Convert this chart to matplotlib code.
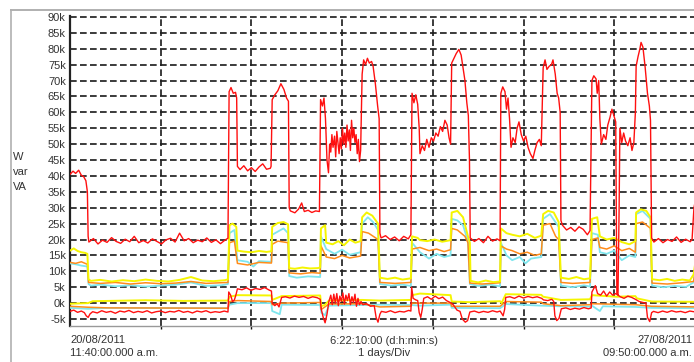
import numpy as np
import matplotlib
matplotlib.use('Agg')
import matplotlib.pyplot as plt
from matplotlib.lines import Line2D

plt.rcParams['font.family'] = ['Liberation Sans', 'DejaVu Sans']

# time in hours from 20/08/2011 11:40, values in kW / kvar / kVA
span_h = 166.17

red_hi_t = [0, 0.8, 1.5, 2.3, 3.0, 3.6, 4.2, 4.6, 4.8,
            5.0, 6.2, 7.4, 8.6, 9.8, 11.0, 12.2, 13.4, 14.6, 15.8, 17.0, 18.2, 19.4, 20.6, 21.8,
            23.0, 24.2, 25.4, 26.6, 27.8, 29.0, 30.2, 31.4, 32.6, 33.8, 35.0, 36.2, 37.4, 38.6,
            39.8, 41.0, 41.8,
            42.1, 42.6, 43.2, 43.8, 44.1, 44.3, 45.0, 46.0, 47.0, 48.0, 49.0, 50.0, 51.0, 52.0,
            53.0, 53.2, 53.5, 54.2, 55.0, 55.8, 56.6, 57.3, 57.8, 58.0, 58.3, 59.5, 60.5, 61.3,
            62.0, 63.0, 64.0, 65.0, 66.0,
            66.3, 66.8, 67.2, 67.6, 68.0, 68.4, 68.7, 69.0, 69.3, 69.6, 70.0, 70.3, 70.6, 70.9,
            71.2, 71.5, 71.8, 72.1, 72.4, 72.7, 73.0, 73.3, 73.6, 73.9, 74.2, 74.5, 74.8, 75.1,
            75.4, 75.7, 76.0, 76.3, 76.6, 76.9,
            77.3, 77.7, 78.2, 78.7, 79.2, 79.8, 80.2, 80.8, 81.4, 81.8, 82.0, 82.3, 83.5, 84.7,
            85.9, 87.1, 88.3, 89.5, 90.2,
            90.5, 91.0, 91.5, 92.0, 92.4, 92.6, 93.2, 93.8, 94.4, 95.0, 95.6, 96.2, 96.8, 97.4,
            98.0, 98.6, 99.2, 99.8, 100.3, 100.7,
            101.0, 101.6, 102.2, 102.9, 103.5, 104.0, 104.5, 105.0, 105.4, 105.7, 105.9, 107.0,
            108.2, 109.4, 110.6, 111.8, 113.0, 113.8,
            114.0, 114.5, 115.1, 115.5, 115.9, 116.3, 116.7, 117.2, 117.8, 118.3, 118.8, 119.4,
            120.0, 120.6, 121.2, 121.8, 122.5, 123.0, 123.6, 124.2, 124.7,
            125.2, 125.7, 126.2, 126.8, 127.4, 127.8, 128.4, 128.9, 129.3, 129.7, 129.9, 130.3,
            131.4, 132.5, 133.6, 134.7, 135.8, 136.9, 137.6,
            138.1, 138.6, 139.2, 139.5, 139.9, 140.2, 140.6, 141.2, 141.8, 142.3, 142.9, 143.4,
            143.9, 144.4, 144.7, 145.0, 145.3, 145.5, 146.0, 146.5, 147.0, 147.6, 148.2, 148.7,
            149.2, 149.6,
            149.8, 150.3, 150.8, 151.1, 151.6, 152.2, 152.8, 153.3, 153.6, 153.9, 154.5, 155.7,
            156.9, 158.1, 159.3, 160.5, 161.7, 162.9, 164.1, 164.6, 165.1, 165.6, 166.2]
red_hi_v = [40.5, 41.5, 40.8, 41.8, 40.2, 39.8, 38.5, 35.0, 21.0,
            19.2, 20.3, 18.6, 19.8, 19.1, 20.6, 19.4, 18.8, 20.1, 19.3, 21.0, 19.0, 19.7, 18.9, 20.2,
            19.4, 18.6, 19.9, 20.4, 19.2, 22.0, 19.6, 20.3, 19.0, 19.8, 19.3, 20.5, 19.1, 19.9,
            18.7, 19.8, 20.4,
            66.5, 67.8, 66.0, 66.3, 64.5, 43.0, 42.0, 43.2, 41.6, 42.6, 41.4, 42.8, 43.8, 42.1,
            42.4, 43.0, 64.0, 65.5, 66.8, 69.0, 67.2, 64.5, 63.5, 30.0, 29.0, 28.4, 29.6, 31.5,
            28.8, 29.2, 28.5, 29.0, 28.8,
            64.0, 62.0, 64.5, 58.0, 45.0, 41.0, 50.0, 47.5, 53.0, 49.0, 52.5, 46.0, 54.0, 50.5,
            47.0, 52.0, 48.5, 55.0, 50.0, 53.5, 49.0, 56.0, 51.0, 54.5, 48.0, 57.5, 52.0, 55.0,
            50.5, 53.0, 47.0, 51.5, 44.5, 48.0,
            72.0, 76.5, 75.0, 77.0, 75.5, 76.0, 74.5, 69.0, 62.0, 58.0, 22.0, 20.5, 21.2, 20.0,
            20.8, 19.6, 21.0, 20.2, 21.5,
            66.0, 63.0, 65.5, 62.5, 55.0, 47.0, 49.5, 48.0, 51.5, 49.0, 52.0, 51.0, 53.5, 52.5,
            55.5, 54.0, 57.5, 56.0, 52.0, 50.0,
            75.5, 77.0, 78.5, 79.8, 78.0, 74.0, 70.0, 63.0, 59.0, 45.0, 20.5, 19.4,
            20.3, 19.0, 21.0, 19.5, 20.2, 19.6,
            66.0, 68.0, 66.5, 61.0, 64.5, 58.0, 49.0, 52.0, 50.5, 55.0, 57.0, 53.0,
            51.0, 52.5, 49.0, 47.0, 45.5, 48.0, 50.5, 51.5, 49.5,
            74.0, 76.5, 73.5, 74.5, 75.0, 76.5, 72.0, 66.0, 64.5, 60.0, 26.0, 24.5,
            23.0, 23.8, 22.6, 24.0, 23.2, 21.5, 22.8,
            70.0, 71.5, 70.5, 66.0, 70.0, 58.0, 50.0, 53.0, 51.5, 56.0, 58.5, 61.0,
            59.0, 57.0, 3.0, 2.5, 30.0, 55.0, 50.5, 53.5, 51.0, 49.5, 52.0, 48.0,
            50.5, 60.0,
            74.5, 77.5, 80.0, 82.0, 80.5, 74.0, 66.0, 62.0, 57.5, 20.5, 19.2, 20.3,
            19.0, 20.0, 19.4, 20.8, 19.1, 20.1, 19.3, 20.0, 30.0, 33.0, 31.0]

red_lo_t = [0, 1.0, 2.0, 3.0, 3.8, 4.3, 4.8, 5.3, 6.0, 7.2, 8.4, 9.6, 10.8, 12.0, 13.2, 14.4,
            15.6, 16.8, 18.0, 19.2, 20.4, 21.6, 22.8, 24.0, 25.2, 26.4, 27.6, 28.8, 30.0, 31.2,
            32.4, 33.6, 34.8, 36.0, 37.2, 38.4, 39.6, 40.8, 41.8,
            42.0, 42.5, 43.0, 43.5, 44.0, 44.3, 45.5, 46.7, 47.9, 49.1, 50.3, 51.5, 52.7, 53.3,
            53.5, 54.2, 54.8, 55.3, 55.7, 56.0, 57.0, 58.2, 59.4, 60.6, 61.8, 63.0, 64.2, 65.4,
            66.2, 66.5, 67.0, 67.5, 68.0, 68.5, 69.0, 69.4, 69.8, 70.2, 70.6, 71.0, 71.4, 71.8,
            72.2, 72.6, 73.0, 73.4, 73.8, 74.2, 74.6, 75.0, 75.4, 75.8, 76.2, 76.6, 77.0, 77.5,
            78.5, 79.5, 80.5, 81.0, 81.5, 82.0, 82.4, 83.6, 84.8, 86.0, 87.2, 88.4, 89.6, 90.2,
            90.4, 90.8, 91.5, 92.0, 92.4, 92.8, 93.2, 93.6, 94.6, 95.6, 96.6, 97.6, 98.6, 99.6,
            100.6, 101.4, 102.4, 103.2, 103.8, 104.6, 105.2, 105.8, 107.0, 108.2, 109.4, 110.6,
            111.8, 113.0, 113.8, 114.2, 114.6, 115.0, 115.3, 116.4, 117.6, 118.8, 120.0, 121.2,
            122.4, 123.6, 124.8, 125.3, 126.4, 127.5, 128.0, 128.3, 128.8, 129.4, 130.0, 131.2,
            132.4, 133.6, 134.8, 136.0, 137.2, 137.9, 138.1, 139.0, 139.6, 140.4, 141.2, 142.0,
            142.8, 143.6, 144.4, 145.6, 146.6, 147.6, 148.6, 149.6, 150.6, 151.6, 152.4, 152.8,
            153.4, 153.9, 154.4, 155.6, 156.8, 158.0, 159.2, 160.4, 161.6, 162.8, 164.0, 165.0,
            166.2]
red_lo_v = [-2.6, -2.2, -2.9, -2.5, -3.0, -4.0, -4.5, -3.4, -2.7, -3.1, -2.4, -2.9, -2.6, -3.2,
            -2.5, -2.8, -2.3, -3.0, -2.6, -2.9, -2.4, -3.1, -2.7, -2.5, -3.0, -2.6, -2.8, -2.3,
            -2.9, -2.6, -3.1, -2.5, -2.8, -2.4, -3.0, -2.7, -2.9, -2.5, -2.8,
            3.5, 2.5, 0.5, 1.0, 3.0, 4.5, 4.2, 4.8, 4.0, 4.6, 4.3, 4.9, 4.1, 3.8,
            0.0, -0.8, -0.2, -1.2, 0.5, 1.8, 2.0, 1.6, 2.2, 1.8, 2.1, 1.5, 2.0, 1.7,
            1.2, -2.0, -4.5, -6.2, -3.5, 0.5, 2.5, -0.5, 2.8, 0.0, 3.0, -0.8, 2.2, 0.5,
            3.2, -0.3, 2.5, 0.8, 3.0, -0.5, 2.0, 0.2, 2.8, -1.0, 1.5, -0.5, 0.5, -0.5,
            -0.2, -1.0, -0.8, -4.5, -6.0, -3.5, -2.6, -2.9, -2.4, -3.0, -2.6, -2.8, -2.3, -2.5,
            5.0, 1.5, 1.0, 0.8, -3.0, -4.5, -2.0, 1.5, 2.0, 1.2, 2.2, 1.4, 1.9, 0.8,
            0.2, -0.5, -2.2, -2.6, -5.0, -6.0, -5.5, -2.8, -2.5, -3.0, -2.6, -2.9,
            -2.4, -2.8, -2.5, -3.2, -4.0, -2.0, 1.8, 2.0, 1.5, 2.2, 1.6, 2.1,
            1.7, 2.0, 1.5, 1.0, 0.8, 1.2, 0.5, -4.0, -5.5, -4.8, -1.8, -1.5,
            -2.0, -1.6, -1.9, -1.4, -1.8, -1.5, 3.5, 5.5, 3.0, 2.5, 3.8, 2.2,
            3.5, 2.5, 3.0, 2.0, 1.5, 2.2, 1.8, 1.2, 0.5, 0.2, 0.0, -4.5,
            -5.8, -3.0, -2.6, -3.0, -2.5, -2.9, -2.4, -2.8, -2.6, -3.0, -2.5, -2.7,
            -2.6]

yel_hi_t = [0, 1.0, 2.0, 3.0, 4.0, 4.6, 4.9, 5.5, 8, 11, 14, 17, 20, 23, 26, 29, 32, 35, 38, 41,
            41.8, 42.2, 43.0, 44.0, 44.3, 46, 48, 50, 52, 53.3, 53.5, 55, 56.5, 57.7, 58.0, 59.5,
            61.5, 63.5, 65.5, 66.2, 66.4, 67.5, 67.8, 69.5, 71.0, 72.5, 74.0, 75.5, 76.9, 77.3,
            78.5, 80.0, 81.5, 82.0, 84, 86, 88, 90.2, 90.5, 92.0, 92.6, 94.5, 96.5, 98.5, 100.7,
            101.0, 102.5, 104.0, 105.3, 105.8, 106.0, 108, 110, 112, 113.8, 114.0, 115.5, 117,
            119, 121, 123, 124.7, 125.2, 126.5, 128, 129.3, 129.9, 132, 134, 136, 137.6, 138.1,
            139.5, 140.2, 142, 144, 146, 148, 149.6, 149.8, 151, 152.5, 153.6, 154.0, 156, 158,
            160, 162, 164, 165.0, 165.5, 166.2]
yel_hi_v = [16.5, 17.2, 16.4, 16.0, 15.8, 15.5, 7.5, 7.0, 7.3, 6.8, 7.2, 6.9, 7.4, 7.0, 6.8, 7.3,
            8.2, 7.1, 6.9, 7.2, 7.5, 24.5, 25.0, 24.0, 16.5, 16.2, 16.0, 16.4, 16.1, 16.3, 24.0,
            25.2, 25.5, 24.8, 11.0, 10.8, 11.2, 10.9, 11.0, 11.2, 23.5, 24.5, 19.0, 18.5, 19.5,
            18.2, 20.0, 19.0, 19.5, 27.0, 28.5, 27.5, 25.0, 8.0, 7.6, 8.0, 7.4, 7.8, 21.0, 20.5,
            19.8, 19.5, 20.0, 19.3, 19.8, 28.5, 29.0, 27.0, 21.0, 19.0, 7.0, 6.5, 7.1, 6.6, 6.8,
            23.5, 22.0, 21.5, 21.0, 21.8, 20.5, 21.2, 28.0, 29.0, 28.5, 25.5, 8.0, 7.6, 8.2, 7.5,
            7.8, 26.5, 27.0, 21.0, 20.0, 20.5, 19.2, 18.5, 19.5, 28.5, 29.5, 29.0, 27.0, 7.5, 7.2,
            7.6, 7.0, 7.4, 7.1, 9.0, 13.0, 13.5]

cya_hi_t = [0, 1.5, 3, 4.6, 4.9, 5.5, 8, 12, 16, 20, 24, 28, 32, 36, 40, 41.8, 42.2, 43.5, 44.3,
            47, 48.5, 50, 53.3, 53.5, 55, 56.5, 57.7, 58.0, 60, 63, 66.2, 66.4, 67.8, 70, 72, 74,
            76.9, 77.3, 78.8, 80.2, 81.5, 82.0, 85, 88, 90.2, 90.5, 92.6, 95, 97, 99, 100.7,
            101.0, 102.5, 104.0, 105.3, 105.8, 108, 111, 113.8, 114.0, 115.5, 117, 119, 120.5,
            122, 124.7, 125.2, 127, 129.3, 129.9, 133, 136, 137.6, 138.1, 139.7, 140.2, 142, 144,
            146, 148, 149.6, 149.8, 151.5, 153.6, 154.0, 157, 160, 163, 165, 165.5, 166.2]
cya_hi_v = [12.5, 12.2, 11.8, 11.5, 6.0, 5.5, 5.8, 5.3, 5.6, 5.2, 5.5, 5.8, 6.5, 5.4, 5.6, 6.0,
            22.0, 23.0, 13.5, 13.0, 11.5, 13.2, 13.0, 21.5, 22.5, 23.5, 22.0, 8.5, 8.0, 8.4, 8.2,
            21.0, 17.0, 15.5, 16.8, 15.2, 16.0, 25.0, 27.0, 25.5, 23.0, 6.0, 5.5, 5.8, 5.4, 19.0,
            16.0, 14.0, 15.5, 14.5, 15.0, 26.5, 26.0, 24.5, 19.5, 6.0, 5.4, 5.8, 5.3, 19.0, 15.0,
            13.5, 14.5, 12.5, 14.0, 14.5, 26.5, 28.0, 24.0, 5.5, 5.0, 5.6, 5.2, 22.0, 21.5, 16.0,
            15.5, 16.5, 13.5, 15.0, 14.5, 28.0, 29.0, 26.5, 5.5, 5.0, 5.4, 5.1, 6.5, 11.0, 11.5]

org_hi_t = [0, 1.5, 3, 4.6, 4.9, 8, 12, 16, 20, 24, 28, 32, 36, 41.8, 42.2, 43.5, 44.3, 47, 50,
            53.3, 53.5, 55, 57.7, 58.0, 61, 64, 66.2, 66.4, 67.8, 70, 72, 74, 76.9, 77.3, 79,
            81.5, 82.0, 86, 90.2, 90.5, 92.6, 95, 97, 99, 100.7, 101.0, 102.5, 104.5, 105.3,
            105.8, 109, 113.8, 114.0, 115.5, 117, 119, 121, 123, 124.7, 125.2, 127, 128.5, 129.3,
            129.9, 133, 137.6, 138.1, 139.7, 140.2, 142, 144, 146, 148, 149.6, 149.8, 151.5,
            153.6, 154.0, 158, 162, 165, 165.5, 166.2]
org_hi_v = [12.8, 12.5, 13.0, 12.2, 6.5, 6.2, 6.5, 6.0, 6.4, 6.1, 6.3, 6.8, 6.2, 6.5, 19.0, 19.5,
            12.5, 12.0, 12.8, 12.6, 18.5, 19.5, 19.0, 9.5, 9.2, 9.6, 9.4, 18.0, 14.5, 14.0, 15.0,
            14.2, 14.8, 22.5, 22.0, 20.0, 6.5, 6.2, 6.5, 17.0, 17.5, 16.5, 17.0, 16.2, 16.8, 23.5,
            23.0, 21.0, 19.0, 6.3, 6.0, 6.4, 18.0, 17.0, 16.5, 15.5, 16.0, 15.0, 15.5, 24.5, 25.0,
            21.0, 20.0, 6.5, 6.2, 6.5, 20.0, 20.5, 17.5, 17.0, 18.0, 16.5, 17.2, 16.0, 25.0, 25.5,
            23.5, 6.3, 6.0, 6.4, 6.8, 10.5, 11.0]

yel_lo_t = [0, 4.8, 6, 20, 30, 41.8, 42.2, 44.3, 53.3, 53.5, 56, 66.2, 66.5, 67.5, 68.5, 77.3,
            82.0, 90.2, 90.5, 92.6, 100.7, 101.0, 105.8, 113.8, 114.2, 115.3, 124.7, 125.2,
            129.9, 137.6, 138.1, 144.7, 149.6, 150.0, 153.9, 166.2]
yel_lo_v = [-0.2, 0.0, 0.6, 0.9, 0.7, 0.8, 2.0, 2.5, 2.4, 1.0, 2.2, 2.4, -1.0, -0.5, 0.8, 1.0,
            0.8, 1.0, 2.5, 3.0, 2.5, 0.5, 0.3, 0.6, 0.0, 2.8, 2.6, 2.0, 1.0, 1.2, 2.5, 2.0, 2.2,
            1.5, 0.5, 0.4]

org_lo_t = [0, 4.8, 10, 41.8, 42.2, 44.3, 53.3, 53.5, 56, 66.2, 66.5, 68.5, 77.3, 82.0, 90.2,
            90.5, 100.7, 101.0, 113.8, 115.3, 124.7, 125.2, 129.9, 137.6, 138.1, 149.6, 153.9,
            166.2]
org_lo_v = [-1.0, -1.3, -1.5, -1.6, 0.5, 0.8, 0.5, -0.5, 0.0, 0.2, -2.0, -0.3, -0.2, -1.2, -1.0,
            0.0, 0.0, -1.0, -1.0, 0.5, 0.3, -0.2, -0.8, -0.5, -0.2, -0.5, -1.0, -1.2]

cya_lo_t = [0, 4.8, 10, 41.8, 42.2, 44.3, 53.3, 53.5, 55.5, 56, 66.2, 66.5, 67.5, 68.5, 77.3,
            82.0, 90.2, 92.6, 100.7, 101.0, 113.8, 115.3, 124.7, 129.9, 137.6, 138.1, 140.2,
            141.0, 149.6, 153.9, 166.2]
cya_lo_v = [-1.5, -1.8, -1.5, -1.6, -0.5, 0.0, 0.0, -2.5, -3.5, -0.5, -0.6, -3.0, -3.8, -0.8,
            -0.6, -0.5, -0.6, -0.8, -0.5, -1.5, -1.6, -0.3, -0.8, -1.0, -1.1, -0.8, -2.5, -1.0,
            -1.2, -1.5, -1.6]

y_ticks = list(range(-5, 91, 5))
y_tick_labels = ['%dk' % v for v in y_ticks]

W, H = 694, 362
fig = plt.figure(figsize=(W / 100, H / 100), dpi=100)
ax = fig.add_axes([70 / W, (H - 326) / H, 628 / W, 310 / H])

series = [
    (cya_lo_t, cya_lo_v, '#7fe6ee', 1.3),
    (org_lo_t, org_lo_v, '#ff8c1a', 1.1),
    (yel_lo_t, yel_lo_v, '#f5f500', 1.4),
    (cya_hi_t, cya_hi_v, '#7fe6ee', 1.3),
    (org_hi_t, org_hi_v, '#ff8c1a', 1.1),
    (yel_hi_t, yel_hi_v, '#f5f500', 1.4),
    (red_lo_t, red_lo_v, '#ff1010', 1.0),
    (red_hi_t, red_hi_v, '#ff1010', 1.0),
]
for t, v, c, w in series:
    ax.plot(np.array(t) / 24.0, v, color=c, lw=w, zorder=3)

ax.set_xlim(0, span_h / 24.0)
ax.set_ylim(-7.2, 90.3)

# dashed grid: every 5k and one line per day
for v in y_ticks:
    ax.axhline(v, color='#1a1a1a', lw=1.2, dashes=(4, 2), zorder=1)
for d in range(1, 7):
    ax.axvline(d, color='#1a1a1a', lw=1.2, dashes=(4, 2), zorder=1)

ax.set_yticks(y_ticks)
ax.set_yticklabels(y_tick_labels, fontsize=8, color='#333333')
ax.tick_params(axis='y', length=0, pad=3)
ax.set_xticks(range(1, 7))
ax.set_xticklabels([])
ax.tick_params(axis='x', length=2.5, width=1, color='#111111', direction='out')

for s in ['top', 'right']:
    ax.spines[s].set_visible(False)
ax.spines['left'].set_linewidth(1.6)
ax.spines['left'].set_color('#222222')
ax.spines['bottom'].set_linewidth(1.0)
ax.spines['bottom'].set_color('#999999')

# unit label on the left
for i, s in enumerate(['W', 'var', 'VA']):
    fig.text(13 / W, 1 - (157 + 15 * i) / H, s, fontsize=8, color='#333333',
             ha='left', va='center')

# time annotations under the axis
fig.text(70 / W, 1 - 340 / H, '20/08/2011', fontsize=8, color='#333333', va='center')
fig.text(70 / W, 1 - 353 / H, '11:40:00.000 a.m.', fontsize=8, color='#333333', va='center')
fig.text(384 / W, 1 - 341 / H, '6:22:10:00 (d:h:min:s)', fontsize=8, color='#333333',
         ha='center', va='center')
fig.text(384 / W, 1 - 353 / H, '1 days/Div', fontsize=8, color='#333333', ha='center',
         va='center')
# end stamp, kept inside the figure edge
fig.text(692 / W, 1 - 340 / H, '27/08/2011', fontsize=8, color='#333333', ha='right',
         va='center')
fig.text(692 / W, 1 - 353 / H, '09:50:00.000 a.m.', fontsize=8, color='#333333', ha='right',
         va='center')

# panel frame
fig.add_artist(Line2D([10.5 / W, 1], [1 - 9.5 / H, 1 - 9.5 / H], color='#b0b0b0', lw=1.4))
fig.add_artist(Line2D([10.5 / W, 10.5 / W], [0, 1 - 9.5 / H], color='#b0b0b0', lw=1.2))

fig.savefig('out.png', dpi=100)
